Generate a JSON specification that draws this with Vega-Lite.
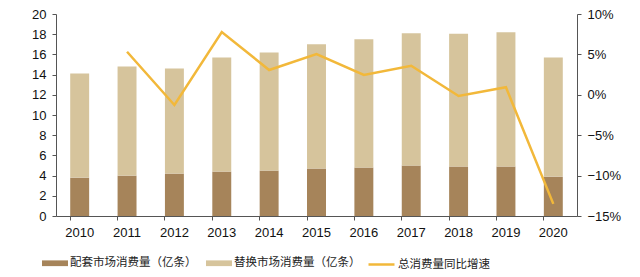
{
  "$schema": "https://vega.github.io/schema/vega-lite/v6.json",
  "autosize": "none",
  "width": 521,
  "height": 202,
  "padding": {"left": 56, "top": 14, "right": 63, "bottom": 61},
  "background": "white",
  "config": {
    "view": {"stroke": null},
    "font": "Liberation Sans",
    "axis": {"labelFont": "Liberation Sans", "labelFontSize": 13, "labelColor": "#111", "domainColor": "#555", "tickColor": "#555", "grid": false, "title": null, "tickSize": 4}
  },
  "datasets": {
    "bars": [
      {"year": "2010", "series": "配套市场消费量（亿条）", "k": 1, "value": 3.8},
      {"year": "2010", "series": "替换市场消费量（亿条）", "k": 2, "value": 10.3},
      {"year": "2011", "series": "配套市场消费量（亿条）", "k": 1, "value": 4.0},
      {"year": "2011", "series": "替换市场消费量（亿条）", "k": 2, "value": 10.8},
      {"year": "2012", "series": "配套市场消费量（亿条）", "k": 1, "value": 4.2},
      {"year": "2012", "series": "替换市场消费量（亿条）", "k": 2, "value": 10.4},
      {"year": "2013", "series": "配套市场消费量（亿条）", "k": 1, "value": 4.4},
      {"year": "2013", "series": "替换市场消费量（亿条）", "k": 2, "value": 11.3},
      {"year": "2014", "series": "配套市场消费量（亿条）", "k": 1, "value": 4.5},
      {"year": "2014", "series": "替换市场消费量（亿条）", "k": 2, "value": 11.7},
      {"year": "2015", "series": "配套市场消费量（亿条）", "k": 1, "value": 4.7},
      {"year": "2015", "series": "替换市场消费量（亿条）", "k": 2, "value": 12.3},
      {"year": "2016", "series": "配套市场消费量（亿条）", "k": 1, "value": 4.8},
      {"year": "2016", "series": "替换市场消费量（亿条）", "k": 2, "value": 12.7},
      {"year": "2017", "series": "配套市场消费量（亿条）", "k": 1, "value": 5.0},
      {"year": "2017", "series": "替换市场消费量（亿条）", "k": 2, "value": 13.1},
      {"year": "2018", "series": "配套市场消费量（亿条）", "k": 1, "value": 4.9},
      {"year": "2018", "series": "替换市场消费量（亿条）", "k": 2, "value": 13.15},
      {"year": "2019", "series": "配套市场消费量（亿条）", "k": 1, "value": 4.9},
      {"year": "2019", "series": "替换市场消费量（亿条）", "k": 2, "value": 13.3},
      {"year": "2020", "series": "配套市场消费量（亿条）", "k": 1, "value": 3.9},
      {"year": "2020", "series": "替换市场消费量（亿条）", "k": 2, "value": 11.8}
    ],
    "growth": [
      {"year": "2011", "g": 0.0533},
      {"year": "2012", "g": -0.0126},
      {"year": "2013", "g": 0.0777},
      {"year": "2014", "g": 0.0307},
      {"year": "2015", "g": 0.0505},
      {"year": "2016", "g": 0.0245},
      {"year": "2017", "g": 0.036},
      {"year": "2018", "g": -0.0015},
      {"year": "2019", "g": 0.0093},
      {"year": "2020", "g": -0.135}
    ]
  },
  "encoding": {
    "x": {
      "field": "year", "type": "ordinal",
      "scale": {"domain": ["2010","2011","2012","2013","2014","2015","2016","2017","2018","2019","2020"], "paddingInner": 0.6, "paddingOuter": 0.3},
      "axis": {"labelAngle": 0, "bandPosition": 0, "labelPadding": 6, "tickSize": 4}
    }
  },
  "layer": [
    {
      "data": {"name": "bars"},
      "mark": {"type": "bar"},
      "encoding": {
        "y": {"field": "value", "type": "quantitative", "stack": "zero",
              "scale": {"domain": [0, 20], "nice": false},
              "axis": {"values": [0,2,4,6,8,10,12,14,16,18,20], "orient": "left", "labelPadding": 6}},
        "color": {"field": "series", "type": "nominal",
                  "scale": {"domain": ["配套市场消费量（亿条）", "替换市场消费量（亿条）"], "range": ["#A6845A", "#D6C49C"]},
                  "legend": {"orient": "none", "legendX": -14, "legendY": 236, "direction": "horizontal", "title": null,
                             "symbolType": "M-1,-0.22H1V0.22H-1Z", "symbolSize": 676, "symbolStrokeWidth": 0,
                             "labelFont": "Noto Sans CJK SC", "labelFontSize": 11.5, "labelColor": "#222",
                             "columnPadding": 9, "labelOffset": 2, "padding": 0}},
        "order": {"field": "k", "type": "quantitative"}
      }
    },
    {
      "data": {"name": "growth"},
      "mark": {"type": "line", "strokeWidth": 2.5},
      "encoding": {
        "y": {"field": "g", "type": "quantitative",
              "scale": {"domain": [-0.15, 0.10], "nice": false},
              "axis": {"orient": "right", "values": [-0.15,-0.10,-0.05,0,0.05,0.10], "format": ".0%", "labelPadding": 6}},
        "stroke": {"datum": "总消费量同比增速", "type": "nominal",
                   "scale": {"range": ["#F2B83A"]},
                   "legend": {"orient": "none", "legendX": 311, "legendY": 236, "title": null,
                              "symbolType": "stroke", "symbolSize": 676, "symbolStrokeWidth": 2.5,
                              "labelFont": "Noto Sans CJK SC", "labelFontSize": 11.5, "labelColor": "#222",
                              "labelOffset": 2, "padding": 0}}
      }
    }
  ],
  "resolve": {"scale": {"y": "independent", "color": "independent"}}
}
